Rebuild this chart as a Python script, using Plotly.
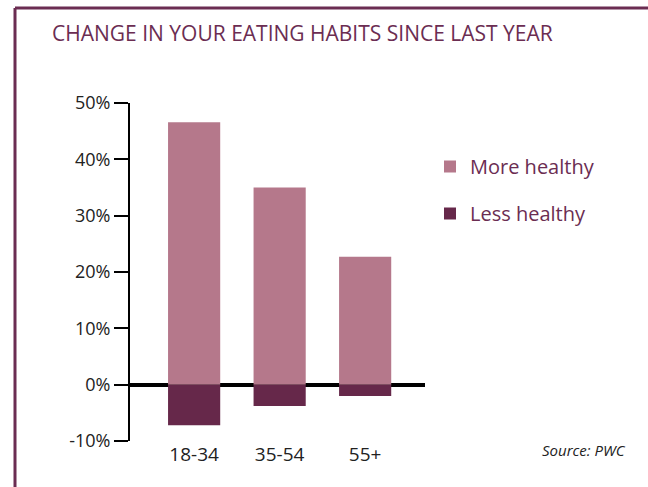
import plotly.graph_objects as go

# Survey data: share of respondents per age group
age_groups = ["18-34", "35-54", "55+"]
more_healthy = [46.6, 35.0, 22.7]
less_healthy = [-7.2, -3.8, -2.0]
y_ticks = [-10, 0, 10, 20, 30, 40, 50]
y_tick_labels = ["-10%", "0%", "10%", "20%", "30%", "40%", "50%"]

W, H = 648, 487
ML, MR, MT, MB = 130, 223, 103, 46
PW, PH = W - ML - MR, H - MT - MB

LIGHT = "#b5788b"
DARK = "#66284a"
PLUM = "#6b2d52"
FONT = "Open Sans, Noto Sans, sans-serif"


def px_x(x):
    return (x - ML) / PW


def px_y(y):
    return (H - MB - y) / PH


fig = go.Figure()
fig.add_trace(go.Bar(
    x=age_groups, y=more_healthy, name="More healthy",
    marker=dict(color=LIGHT, line=dict(width=0)), width=0.61,
    legendgroup="a",
))
fig.add_trace(go.Bar(
    x=age_groups, y=less_healthy, name="Less healthy",
    marker=dict(color=DARK, line=dict(width=0)), width=0.61,
    legendgroup="b",
))

fig.update_layout(
    width=W, height=H,
    margin=dict(l=ML, r=MR, t=MT, b=MB),
    paper_bgcolor="white", plot_bgcolor="white",
    barmode="relative",
    font=dict(family=FONT, size=18, color="#222222"),
    title=dict(
        text="CHANGE IN YOUR EATING HABITS SINCE LAST YEAR",
        xref="container", yref="container",
        x=52 / W, xanchor="left", y=1 - 34 / H, yanchor="middle",
        font=dict(family=FONT, size=21, color=PLUM),
    ),
    legend=dict(
        x=px_x(430), xanchor="left", y=px_y(147), yanchor="top",
        font=dict(family=FONT, size=20, color=PLUM),
        tracegroupgap=18, traceorder="grouped",
        bgcolor="rgba(0,0,0,0)",
    ),
    xaxis=dict(
        range=[-0.75, 2.7], showgrid=False, showline=False, zeroline=False,
        ticks="",
        tickfont=dict(size=19, color="#222222"),
    ),
    yaxis=dict(
        range=[-10, 50], tickvals=y_ticks, ticktext=y_tick_labels,
        showgrid=False, showline=True, linecolor="black", linewidth=2,
        ticks="outside", ticklen=14, tickwidth=2, tickcolor="black",
        zeroline=True, zerolinecolor="black", zerolinewidth=3.5,
        layer="above traces",
        tickfont=dict(size=18, color="#222222"),
    ),
    shapes=[
        dict(type="line", xref="paper", yref="paper",
             x0=px_x(15), x1=px_x(W + 2), y0=px_y(8), y1=px_y(8),
             line=dict(color=PLUM, width=3)),
        dict(type="line", xref="paper", yref="paper",
             x0=px_x(15), x1=px_x(15), y0=px_y(8), y1=px_y(H + 2),
             line=dict(color=PLUM, width=3)),
    ],
    annotations=[
        dict(text="<i>Source: PWC</i>", xref="paper", yref="paper",
             x=px_x(628), xanchor="right", y=px_y(450), yanchor="middle",
             showarrow=False, font=dict(family=FONT, size=15, color="#222222")),
    ],
)

fig.write_html("out.html")
